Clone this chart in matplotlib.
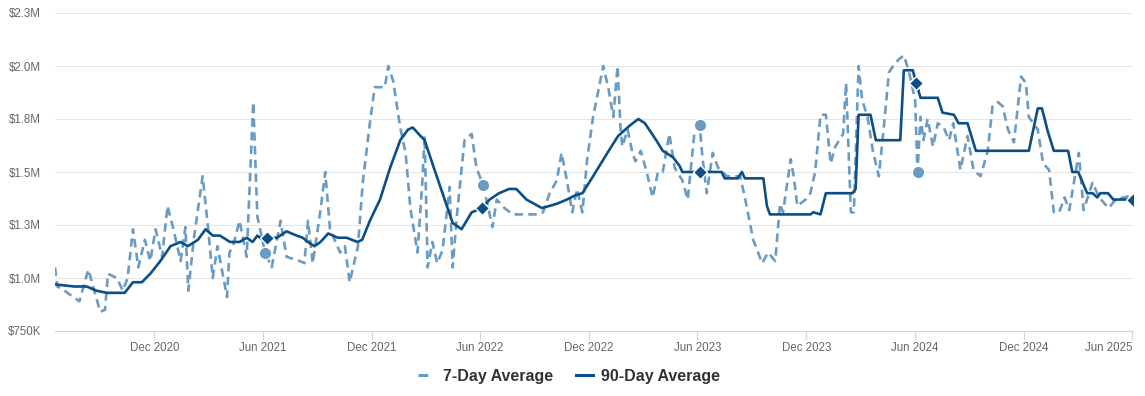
import matplotlib
matplotlib.use("Agg")
import matplotlib.pyplot as plt
from matplotlib.lines import Line2D
import numpy as np
import pandas as pd

# 7-day average (millions of dollars)
avg7_dates = [
    "2020-06-17", "2020-06-21", "2020-07-03", "2020-07-28", "2020-08-12", "2020-09-01",
    "2020-09-09", "2020-09-14", "2020-09-29", "2020-10-09", "2020-10-17", "2020-10-26",
    "2020-11-04", "2020-11-15", "2020-11-24", "2020-12-03", "2020-12-14", "2020-12-23",
    "2021-01-02", "2021-01-14", "2021-01-22", "2021-01-27", "2021-02-05", "2021-02-20",
    "2021-03-01", "2021-03-09", "2021-03-17", "2021-04-02", "2021-04-06", "2021-04-12",
    "2021-04-23", "2021-05-05", "2021-05-16", "2021-05-23", "2021-06-05", "2021-06-16",
    "2021-07-01", "2021-07-11", "2021-08-02", "2021-08-10", "2021-08-16", "2021-08-24",
    "2021-09-06", "2021-09-14", "2021-09-22", "2021-10-09", "2021-10-17", "2021-10-25",
    "2021-11-08", "2021-11-16", "2021-11-28", "2021-12-06", "2021-12-23", "2021-12-29",
    "2022-01-06", "2022-01-18", "2022-01-27", "2022-02-04", "2022-02-16", "2022-02-24",
    "2022-02-28", "2022-03-05", "2022-03-13", "2022-03-21", "2022-03-30", "2022-04-11",
    "2022-04-16", "2022-04-24", "2022-05-06", "2022-05-18", "2022-05-26", "2022-06-06",
    "2022-06-22", "2022-06-29", "2022-07-12", "2022-07-26", "2022-09-05", "2022-09-15",
    "2022-09-26", "2022-10-08", "2022-10-16", "2022-10-25", "2022-11-03", "2022-11-11",
    "2022-11-20", "2022-11-28", "2022-12-08", "2022-12-25", "2023-01-03", "2023-01-11",
    "2023-01-18", "2023-01-23", "2023-01-26", "2023-02-04", "2023-02-12", "2023-02-17",
    "2023-02-26", "2023-03-08", "2023-03-18", "2023-03-27", "2023-04-04", "2023-04-15",
    "2023-04-24", "2023-05-07", "2023-05-16", "2023-05-27", "2023-06-05", "2023-06-10",
    "2023-06-17", "2023-06-27", "2023-07-06", "2023-07-21", "2023-08-12", "2023-08-20",
    "2023-09-03", "2023-09-18", "2023-09-28", "2023-10-10", "2023-10-18", "2023-10-23",
    "2023-11-05", "2023-11-10", "2023-11-16", "2023-11-30", "2023-12-08", "2023-12-16",
    "2023-12-25", "2024-01-03", "2024-01-11", "2024-01-19", "2024-02-01", "2024-02-06",
    "2024-02-14", "2024-02-19", "2024-02-27", "2024-03-04", "2024-03-13", "2024-03-22",
    "2024-04-01", "2024-04-09", "2024-04-18", "2024-04-25", "2024-05-04", "2024-05-13",
    "2024-05-21", "2024-06-01", "2024-06-05", "2024-06-10", "2024-06-15", "2024-06-22",
    "2024-07-01", "2024-07-09", "2024-07-19", "2024-07-28", "2024-08-04", "2024-08-16",
    "2024-08-28", "2024-09-07", "2024-09-19", "2024-10-01", "2024-10-09", "2024-10-18",
    "2024-10-26", "2024-11-04", "2024-11-14", "2024-11-26", "2024-12-04", "2024-12-09",
    "2024-12-24", "2025-01-02", "2025-01-12", "2025-01-20", "2025-01-29", "2025-02-07",
    "2025-02-15", "2025-03-03", "2025-03-11", "2025-03-26", "2025-04-06", "2025-04-22",
    "2025-05-04", "2025-05-17", "2025-06-02",
]
avg7_vals = [
    1.05, 0.96, 0.94, 0.89, 1.04, 0.84,
    0.85, 1.02, 1.00, 0.94, 1.00, 1.23,
    1.05, 1.18, 1.08, 1.23, 1.10, 1.34,
    1.23, 1.08, 1.24, 0.94, 1.18, 1.48,
    1.24, 1.00, 1.15, 0.91, 1.12, 1.15,
    1.27, 1.10, 1.83, 1.29, 1.12, 1.05,
    1.27, 1.10, 1.08, 1.07, 1.27, 1.07,
    1.32, 1.50, 1.23, 1.12, 1.15, 0.98,
    1.15, 1.45, 1.73, 1.90, 1.90, 2.00,
    1.93, 1.71, 1.59, 1.33, 1.12, 1.45,
    1.67, 1.05, 1.17, 1.07, 1.13, 1.43,
    1.05, 1.32, 1.65, 1.68, 1.52, 1.44,
    1.24, 1.37, 1.33, 1.30, 1.30, 1.31,
    1.40, 1.46, 1.59, 1.46, 1.31, 1.42,
    1.31, 1.56, 1.76, 2.00, 1.89, 1.76,
    2.00, 1.71, 1.62, 1.70, 1.59, 1.55,
    1.60, 1.50, 1.38, 1.50, 1.50, 1.68,
    1.52, 1.46, 1.37, 1.68, 1.72, 1.56,
    1.40, 1.59, 1.52, 1.48, 1.48, 1.38,
    1.18, 1.07, 1.12, 1.08, 1.35, 1.31,
    1.56, 1.48, 1.34, 1.37, 1.40, 1.50,
    1.77, 1.77, 1.54, 1.62, 1.68, 1.92,
    1.31, 1.31, 2.00, 1.84, 1.76, 1.60,
    1.48, 1.70, 1.97, 2.00, 2.03, 2.05,
    1.98, 1.84, 1.50, 1.76, 1.65, 1.75,
    1.62, 1.73, 1.71, 1.65, 1.73, 1.51,
    1.67, 1.51, 1.48, 1.60, 1.81, 1.83,
    1.81, 1.70, 1.64, 1.95, 1.92, 1.76,
    1.70, 1.54, 1.51, 1.31, 1.31, 1.38,
    1.32, 1.59, 1.32, 1.45, 1.38, 1.33,
    1.37, 1.38, 1.39,
]
avg7_marks = ["2021-06-05", "2022-06-06", "2023-06-05", "2024-06-05"]

# 90-day average (millions of dollars)
avg90_dates = [
    "2020-06-17", "2020-07-19", "2020-08-09", "2020-08-26", "2020-09-12", "2020-10-12",
    "2020-10-26", "2020-11-10", "2020-11-24", "2020-12-11", "2020-12-28", "2021-01-14",
    "2021-01-26", "2021-02-12", "2021-02-25", "2021-03-09", "2021-03-21", "2021-04-07",
    "2021-04-23", "2021-05-05", "2021-05-15", "2021-05-23", "2021-06-01", "2021-06-08",
    "2021-06-25", "2021-07-11", "2021-07-28", "2021-08-07", "2021-08-16", "2021-08-27",
    "2021-09-06", "2021-09-19", "2021-10-05", "2021-10-20", "2021-11-07", "2021-11-15",
    "2021-11-28", "2021-12-15", "2022-01-01", "2022-01-18", "2022-01-31", "2022-02-08",
    "2022-02-21", "2022-02-28", "2022-03-13", "2022-03-30", "2022-04-16", "2022-05-01",
    "2022-05-18", "2022-06-05", "2022-06-17", "2022-07-03", "2022-07-20", "2022-08-01",
    "2022-08-18", "2022-09-13", "2022-10-08", "2022-10-25", "2022-11-08", "2022-11-20",
    "2022-12-08", "2023-01-01", "2023-01-19", "2023-02-08", "2023-02-22", "2023-03-05",
    "2023-03-24", "2023-04-04", "2023-04-21", "2023-05-02", "2023-05-07", "2023-06-05",
    "2023-07-12", "2023-07-17", "2023-08-08", "2023-08-15", "2023-08-20", "2023-09-20",
    "2023-09-26", "2023-10-01", "2023-12-08", "2023-12-13", "2023-12-25", "2024-01-03",
    "2024-02-17", "2024-02-22", "2024-02-27", "2024-03-18", "2024-03-27", "2024-05-07",
    "2024-05-13", "2024-05-28", "2024-06-03", "2024-06-10", "2024-07-09", "2024-07-17",
    "2024-08-05", "2024-08-13", "2024-08-28", "2024-09-11", "2024-12-09", "2024-12-24",
    "2024-12-31", "2025-01-10", "2025-01-20", "2025-02-13", "2025-02-20", "2025-03-02",
    "2025-03-17", "2025-03-26", "2025-04-03", "2025-04-08", "2025-04-21", "2025-04-30",
    "2025-05-17", "2025-06-02",
]
avg90_vals = [
    0.97, 0.96, 0.96, 0.94, 0.93, 0.93,
    0.98, 0.98, 1.02, 1.08, 1.15, 1.17,
    1.15, 1.18, 1.23, 1.20, 1.20, 1.17,
    1.17, 1.19, 1.17, 1.20, 1.18, 1.19,
    1.19, 1.22, 1.20, 1.19, 1.17, 1.15,
    1.17, 1.21, 1.19, 1.19, 1.17, 1.18,
    1.27, 1.37, 1.52, 1.65, 1.70, 1.71,
    1.67, 1.65, 1.54, 1.40, 1.26, 1.23,
    1.31, 1.33, 1.37, 1.40, 1.42, 1.42,
    1.37, 1.33, 1.35, 1.37, 1.39, 1.40,
    1.48, 1.59, 1.67, 1.72, 1.75, 1.73,
    1.65, 1.60, 1.57, 1.53, 1.50, 1.50,
    1.50, 1.47, 1.47, 1.50, 1.47, 1.47,
    1.34, 1.30, 1.30, 1.31, 1.30, 1.40,
    1.40, 1.42, 1.77, 1.77, 1.65, 1.65,
    1.98, 1.98, 1.92, 1.85, 1.85, 1.78,
    1.77, 1.73, 1.73, 1.60, 1.60, 1.80,
    1.80, 1.69, 1.60, 1.60, 1.50, 1.50,
    1.40, 1.40, 1.38, 1.40, 1.40, 1.37,
    1.37, 1.37,
]
avg90_marks = ["2021-06-08", "2022-06-05", "2023-06-05", "2024-06-03", "2025-06-02"]

y_ticks = [0.75, 1.0, 1.25, 1.5, 1.75, 2.0, 2.25]
y_labels = ["$750K", "$1.0M", "$1.3M", "$1.5M", "$1.8M", "$2.0M", "$2.3M"]
x_ticks = ["2020-12-01", "2021-06-01", "2021-12-01", "2022-06-01", "2022-12-01",
           "2023-06-01", "2023-12-01", "2024-06-01", "2024-12-01", "2025-06-01"]
x_labels = ["Dec 2020", "Jun 2021", "Dec 2021", "Jun 2022", "Dec 2022",
            "Jun 2023", "Dec 2023", "Jun 2024", "Dec 2024", "Jun 2025"]

LIGHT = "#6a9bc3"
DARK = "#0b4f86"

plt.rcParams["font.family"] = ["Liberation Sans", "DejaVu Sans"]

d7 = pd.to_datetime(avg7_dates)
d90 = pd.to_datetime(avg90_dates)
v7 = np.array(avg7_vals)
v90 = np.array(avg90_vals)

fig = plt.figure(figsize=(11.45, 3.96), dpi=100)
ax = fig.add_axes([55 / 1145, 1 - 331 / 396, (1133 - 55) / 1145, (331 - 13) / 396])

# Grid
for yv in y_ticks[1:]:
    ax.axhline(yv, color="#e6e6e6", lw=0.75, zorder=0)

ax.plot(d7, v7, color=LIGHT, lw=1.9, dashes=(3.2, 2.0), zorder=2)
ax.plot(d90, v90, color=DARK, lw=1.9, zorder=3, solid_joinstyle="round")

m7 = np.isin(d7, pd.to_datetime(avg7_marks))
ax.plot(d7[m7], v7[m7], "o", color=LIGHT, ms=9, mec="white", mew=1, zorder=4)
m90 = np.isin(d90, pd.to_datetime(avg90_marks))
ax.plot(d90[m90], v90[m90], "D", color=DARK, ms=7.5, mec="white", mew=1, zorder=5)

ax.set_ylim(0.75, 2.25)
ax.set_xlim(pd.Timestamp("2020-06-17"), pd.Timestamp("2025-06-02"))
ax.set_yticks(y_ticks)
ax.set_yticklabels(y_labels)
ax.set_xticks(pd.to_datetime(x_ticks))
ax.set_xticklabels(x_labels)
ax.get_xticklabels()[-1].set_horizontalalignment("right")

for s in ["top", "right", "left"]:
    ax.spines[s].set_visible(False)
ax.spines["bottom"].set_color("#ccd6eb")
ax.spines["bottom"].set_linewidth(0.8)
ax.tick_params(axis="y", length=0, pad=10, labelsize=8.3, labelcolor="#666666")
ax.tick_params(axis="x", length=6.5, width=0.8, color="#ccd6eb", pad=1.5,
               labelsize=8.3, labelcolor="#666666")
ax.patch.set_visible(False)

handles = [
    Line2D([], [], color=LIGHT, lw=2.2, dashes=(3.2, 12.0)),
    Line2D([], [], color=DARK, lw=2.2),
]
fig.legend(handles, ["7-Day Average", "90-Day Average"], loc="center",
           bbox_to_anchor=(0.497, 1 - 376 / 396), ncol=2, frameon=False,
           handlelength=1.1, handletextpad=0.5, columnspacing=1.4,
           prop={"weight": "bold", "size": 11.5}, labelcolor="#333333")

fig.savefig("out.png", dpi=100)
